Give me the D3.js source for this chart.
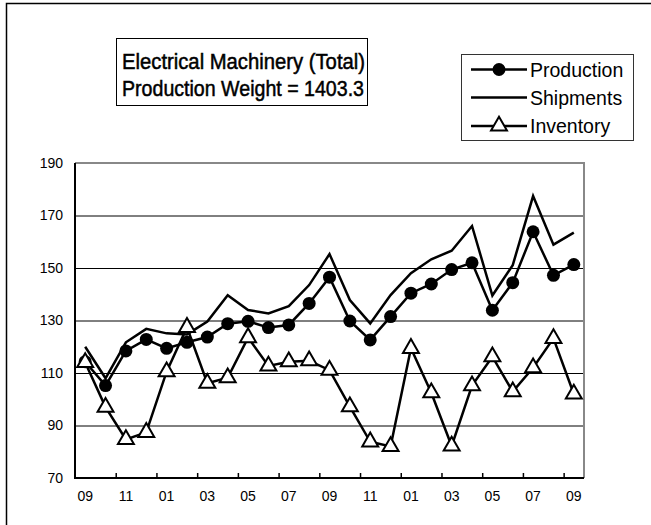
<!DOCTYPE html>
<html>
<head>
<meta charset="utf-8">
<script src="https://cdn.jsdelivr.net/npm/d3@7"></script>
<style>
  body { margin: 0; background: #fff; }
  text { font-family: "Liberation Sans", Arial, sans-serif; fill: #000; }
</style>
</head>
<body>
<svg id="chart" width="651" height="525"></svg>
<script>
// month labels, Sep of year 1 .. Sep of year 3
var months = ["09","10","11","12","01","02","03","04","05","06","07","08",
              "09","10","11","12","01","02","03","04","05","06","07","08","09"];
var production = [114.3,105.2,118.4,122.8,119.4,121.7,123.7,128.8,129.7,127.3,128.3,136.5,
                  146.5,129.8,122.6,131.5,140.4,143.9,149.4,152.0,133.9,144.4,163.8,147.2,151.3];
var shipments  = [120.0,108.0,121.7,126.8,125.1,124.7,129.6,139.6,134.0,132.7,135.5,143.5,
                  155.3,137.8,128.9,139.7,148.0,153.3,156.6,166.0,139.5,151.1,177.4,158.9,163.5];
var inventory  = [114.0,97.0,84.7,87.4,110.5,127.4,106.1,108.2,123.5,112.7,114.3,114.7,
                  111.1,97.2,83.8,82.0,119.4,102.5,82.2,105.2,116.2,102.9,112.0,123.2,102.0];
var yTicks = [70, 90, 110, 130, 150, 170, 190];
var seriesNames = ["Production", "Shipments", "Inventory"];

var svg = d3.select("#chart");
var plot = { left: 75, right: 584, top: 163, bottom: 478 };

// outer chart frame (cropped on right/bottom)
svg.append("path")
  .attr("d", "M6.5,530V3.5H660")
  .attr("fill", "none").attr("stroke", "#000").attr("stroke-width", 1.5);

var idx = d3.range(months.length);
var x = d3.scaleBand().domain(idx).range([plot.left, plot.right]).padding(0);
var xb = d3.scaleLinear().domain([0, months.length]).range([plot.left, plot.right]);
var y = d3.scaleLinear().domain([70, 190]).range([plot.bottom, plot.top]);
var cx = function(i) { return x(i) + x.bandwidth() / 2; };

// grid
svg.append("g")
  .attr("transform", "translate(" + plot.left + ",0)")
  .call(d3.axisLeft(y).tickValues(yTicks.slice(1, -1)).tickSize(-(plot.right - plot.left)).tickFormat(""))
  .call(function(g) { g.select(".domain").remove(); })
  .selectAll("line").attr("stroke", "#000").attr("stroke-width", 1);

// plot area border top/right in gray
svg.append("path")
  .attr("d", "M" + plot.left + "," + plot.top + "H" + plot.right + "V" + plot.bottom)
  .attr("fill", "none").attr("stroke", "#888").attr("stroke-width", 2);

// y axis labels
var yAxis = svg.append("g")
  .attr("transform", "translate(" + plot.left + ",0)")
  .call(d3.axisLeft(y).tickValues(yTicks).tickSize(0).tickPadding(12));
yAxis.select(".domain").remove();
yAxis.selectAll("text").style("font-size", "14px").attr("font-family", null);

// x axis labels
var xAxis = svg.append("g")
  .attr("transform", "translate(0," + plot.bottom + ")")
  .call(d3.axisBottom(x).tickValues(idx.filter(function(i) { return i % 2 === 0; }))
    .tickSize(0).tickPadding(13).tickFormat(function(i) { return months[i]; }));
xAxis.select(".domain").remove();
xAxis.selectAll("text").style("font-size", "14px").attr("font-family", null);

// x tick marks (inside) at category boundaries
svg.append("g")
  .attr("transform", "translate(0," + plot.bottom + ")")
  .call(d3.axisBottom(xb).tickValues(d3.range(2, months.length, 2)).tickSize(-5).tickFormat(""))
  .call(function(g) { g.select(".domain").remove(); })
  .selectAll("line").attr("stroke", "#000").attr("stroke-width", 1.5);

// axes lines
svg.append("path")
  .attr("d", "M" + plot.left + "," + plot.top + "V" + plot.bottom + "H" + plot.right)
  .attr("fill", "none").attr("stroke", "#000").attr("stroke-width", 2);

var line = d3.line().x(function(d, i) { return cx(i); }).y(function(d) { return y(d); });
var tri = d3.symbol().type(d3.symbolTriangle).size(110);

function drawLine(data) {
  svg.append("path").datum(data).attr("d", line)
    .attr("fill", "none").attr("stroke", "#000").attr("stroke-width", 2.5)
    .attr("stroke-linejoin", "miter");
}

drawLine(inventory);
drawLine(shipments);
drawLine(production);

svg.append("g").selectAll("circle").data(production).join("circle")
  .attr("cx", function(d, i) { return cx(i); })
  .attr("cy", function(d) { return y(d); })
  .attr("r", 6.5).attr("fill", "#000");

svg.append("g").selectAll("path").data(inventory).join("path")
  .attr("transform", function(d, i) { return "translate(" + cx(i) + "," + y(d) + ")"; })
  .attr("d", tri).attr("fill", "#fff").attr("stroke", "#000").attr("stroke-width", 2);

// title box
svg.append("rect").attr("x", 116.5).attr("y", 38.5).attr("width", 251).attr("height", 67)
  .attr("fill", "#fff").attr("stroke", "#000").attr("stroke-width", 1);
var title = svg.append("text").style("font-size", "22px")
  .attr("stroke", "#000").attr("stroke-width", 0.5);
title.append("tspan").attr("x", 122).attr("y", 69).attr("textLength", 243)
  .attr("lengthAdjust", "spacingAndGlyphs").text("Electrical Machinery (Total)");
title.append("tspan").attr("x", 122).attr("y", 96).attr("textLength", 242)
  .attr("lengthAdjust", "spacingAndGlyphs").text("Production Weight = 1403.3");

// legend
var legend = svg.append("g");
legend.append("rect").attr("x", 461.5).attr("y", 54.5).attr("width", 172).attr("height", 86)
  .attr("fill", "#fff").attr("stroke", "#333").attr("stroke-width", 1);
var ly = [69.5, 97.5, 126];
seriesNames.forEach(function(name, k) {
  legend.append("line").attr("x1", 471).attr("x2", 527).attr("y1", ly[k]).attr("y2", ly[k])
    .attr("stroke", "#000").attr("stroke-width", 2.5);
  if (k === 0) {
    legend.append("circle").attr("cx", 499).attr("cy", ly[k]).attr("r", 6.5).attr("fill", "#000");
  } else if (k === 2) {
    legend.append("path").attr("transform", "translate(499," + ly[k] + ")")
      .attr("d", tri).attr("fill", "#fff").attr("stroke", "#000").attr("stroke-width", 2);
  }
  legend.append("text").attr("x", 530).attr("y", ly[k]).attr("dy", "0.36em")
    .style("font-size", "19.5px").text(name);
});
</script>
</body>
</html>
